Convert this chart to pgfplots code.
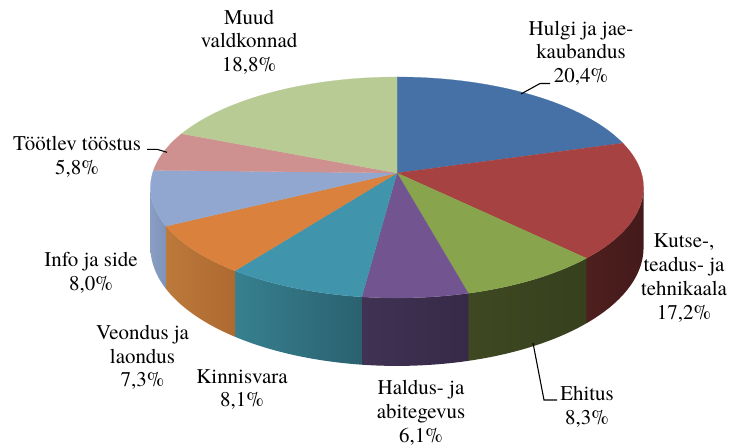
\documentclass[border=0pt]{standalone}
\usepackage{fontspec}
\setmainfont{TeX Gyre Termes}
\newfontfamily\lblfont{TeX Gyre Termes}
\usepackage{pgfplots}
\pgfplotsset{compat=1.18}

% slice colours (top) and side colours (left/right)
\definecolor{tA}{HTML}{4571A6}
\definecolor{tB}{HTML}{A64342}
\definecolor{tC}{HTML}{88A44C}
\definecolor{tD}{HTML}{725590}
\definecolor{tE}{HTML}{4095AD}
\definecolor{tF}{HTML}{D9813D}
\definecolor{tG}{HTML}{91A7D0}
\definecolor{tH}{HTML}{CF918F}
\definecolor{tI}{HTML}{B9CB94}
\definecolor{sBl}{HTML}{4E1F1F}\definecolor{sBr}{HTML}{441A1A}
\definecolor{sCl}{HTML}{3E4822}\definecolor{sCr}{HTML}{37401D}
\definecolor{sDl}{HTML}{403253}\definecolor{sDr}{HTML}{372A48}
\definecolor{sEl}{HTML}{37808F}\definecolor{sEr}{HTML}{2A6170}
\definecolor{sFl}{HTML}{BC793B}\definecolor{sFr}{HTML}{AE6A30}
\definecolor{sGl}{HTML}{8A9DC2}\definecolor{sGr}{HTML}{7F93B8}

% values (percent), clockwise from 12 o'clock
\def\vA{20.4}% Hulgi ja jaekaubandus
\def\vB{17.2}% Kutse-, teadus- ja tehnikaala
\def\vC{8.3}%  Ehitus
\def\vD{6.1}%  Haldus- ja abitegevus
\def\vE{8.1}%  Kinnisvara
\def\vF{7.3}%  Veondus ja laondus
\def\vG{8.0}%  Info ja side
\def\vH{5.8}%  Töötlev tööstus
\def\vI{18.8}% Muud valdkonnad

\pgfmathsetmacro\aA{0}
\pgfmathsetmacro\aB{\aA+3.6*\vA}
\pgfmathsetmacro\aC{\aB+3.6*\vB}
\pgfmathsetmacro\aD{\aC+3.6*\vC}
\pgfmathsetmacro\aE{\aD+3.6*\vD}
\pgfmathsetmacro\aF{\aE+3.6*\vE}
\pgfmathsetmacro\aG{\aF+3.6*\vF}
\pgfmathsetmacro\aH{\aG+3.6*\vG}
\pgfmathsetmacro\aI{\aH+3.6*\vH}
\pgfmathsetmacro\aJ{\aI+3.6*\vI}

\tikzset{
  declare function={
    px(\t)=397+244.4*sin(\t)/(1+0.1312*cos(\t));
    py(\t)=173-108.6*cos(\t)/(1+0.1312*cos(\t));
    pd(\t)=59/(1+0.1312*cos(\t));
    tt(\ss,\ta,\tb)=(\ss<=40)*(\ta+(\tb-\ta)*\ss/40)+(\ss>40)*(\tb-(\tb-\ta)*(\ss-40)/40);
    dd(\ss)=(\ss>40);
  },
  lbl/.style={font={\lblfont\fontsize{21}{24}\selectfont}, align=center, inner sep=0pt, anchor=north},
}

\newcommand\pieside[4]{%
  \addplot[draw=none, left color=#3, right color=#4,
    samples at={0,1,...,40,40.001,41,42,...,80}, variable=\s]
    ({px(tt(\s,#1,#2))},{py(tt(\s,#1,#2))+dd(\s)*pd(tt(\s,#1,#2))}) -- cycle;
}
\newcommand\pietop[3]{%
  \addplot[fill=#3, draw=#3, line width=0.2bp, domain=#1:#2, samples=60, variable=\t]
    ({px(\t)},{py(\t)}) -- (axis cs:397,173) -- cycle;
}

\begin{document}
\begin{tikzpicture}
\begin{axis}[
  scale only axis, width=729bp, height=448bp,
  xmin=0, xmax=729, ymin=0, ymax=448, y dir=reverse,
  hide axis, clip=false,
]
% sides (visible front part)
\pieside{97.5}{\aC}{sBl}{sBr}
\pieside{\aC}{\aD}{sCl}{sCr}
\pieside{\aD}{\aE}{sDl}{sDr}
\pieside{\aE}{\aF}{sEl}{sEr}
\pieside{\aF}{\aG}{sFl}{sFr}
\pieside{\aG}{262.5}{sGl}{sGr}
% tops
\pietop{\aA}{\aB}{tA}
\pietop{\aB}{\aC}{tB}
\pietop{\aC}{\aD}{tC}
\pietop{\aD}{\aE}{tD}
\pietop{\aE}{\aF}{tE}
\pietop{\aF}{\aG}{tF}
\pietop{\aG}{\aH}{tG}
\pietop{\aH}{\aI}{tH}
\pietop{\aI}{\aJ}{tI}
% leader lines
\addplot[black, line width=1.1bp] coordinates {(521,94) (540,83.5) (550,83.5)};
\addplot[black, line width=1.1bp] coordinates {(147,149.3) (157,149.3) (167,152.3)};
\addplot[black, line width=1.1bp] coordinates {(533,343) (544,400) (557,400)};
% labels
\node[lbl] at (axis cs:249,9.6) {Muud\\valdkonnad\\18,8\%};
\node[lbl] at (axis cs:581,20.6) {Hulgi ja jae-\\kaubandus\\20,4\%};
\node[lbl] at (axis cs:77,135.6) {Töötlev tööstus\\5,8\%};
\node[lbl] at (axis cs:684,233.6) {Kutse-,\\teadus- ja\\tehnikaala\\17,2\%};
\node[lbl] at (axis cs:91,252.3) {Info ja side\\8,0\%};
\node[lbl] at (axis cs:142.5,324.6) {Veondus ja\\laondus\\7,3\%};
\node[lbl] at (axis cs:242,369) {Kinnisvara\\8,1\%};
\node[lbl] at (axis cs:421,380) {Haldus- ja\\abitegevus\\6,1\%};
\node[lbl] at (axis cs:587,385.6) {Ehitus\\8,3\%};
\end{axis}
\pgfresetboundingbox
\path[use as bounding box] (current axis.south west) rectangle (current axis.north east);
\end{tikzpicture}
\end{document}
